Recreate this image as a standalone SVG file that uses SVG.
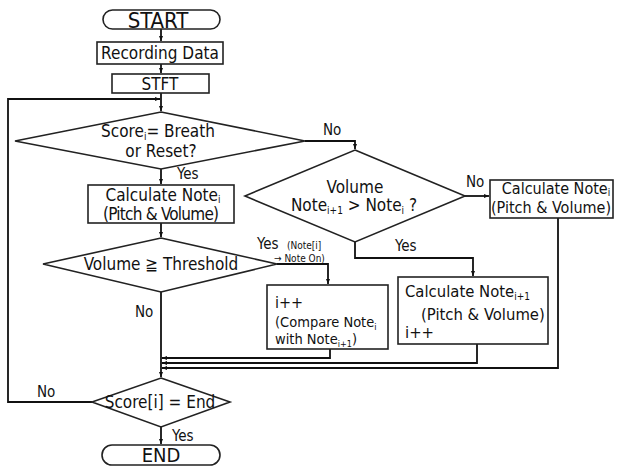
<svg xmlns="http://www.w3.org/2000/svg" width="618" height="467" viewBox="0 0 618 467">
<defs>
<marker id="ah" viewBox="0 0 10 10" refX="10" refY="5" markerWidth="5" markerHeight="5" orient="auto" markerUnits="userSpaceOnUse">
<path d="M0,1 L10,5 L0,9 z" fill="#111"/>
</marker>
</defs>
<style>
.s{fill:#fff;stroke:#222;stroke-width:1.6}
.c{fill:none;stroke:#111;stroke-width:1.8}
text{font-family:"DejaVu Sans Condensed","DejaVu Sans",sans-serif;fill:#111}
.t{font-size:17px}
.m{text-anchor:middle}
.l{font-size:15px}
.b{font-size:14.5px}
.sm{font-size:10px}
.sub{font-size:10px}
</style>
<rect width="618" height="467" fill="#fff"/>
<g id="connectors">
<path class="c" d="M161,29 V41" marker-end="url(#ah)"/>
<path class="c" d="M161,64 V73" marker-end="url(#ah)"/>
<path class="c" d="M161,93 V111" marker-end="url(#ah)"/>
<path class="c" d="M92,402 H8 V99 H160" marker-end="url(#ah)"/>
<path class="c" d="M161,169 V184" marker-end="url(#ah)"/>
<path class="c" d="M161,223 V237" marker-end="url(#ah)"/>
<path class="c" d="M305,141 H355 V149" marker-end="url(#ah)"/>
<path class="c" d="M465,196 H489" marker-end="url(#ah)"/>
<path class="c" d="M355,242 V258 H473 V276" marker-end="url(#ah)"/>
<path class="c" d="M277,264 H328 V284" marker-end="url(#ah)"/>
<path class="c" d="M161,292 V377" marker-end="url(#ah)"/>
<path class="c" d="M330,349 V358 H162" marker-end="url(#ah)"/>
<path class="c" d="M477,344 V363 H162" marker-end="url(#ah)"/>
<path class="c" d="M558,218 V368 H162" marker-end="url(#ah)"/>
<path class="c" d="M161,427 V444" marker-end="url(#ah)"/>
</g>
<g id="start">
<rect class="s" x="103" y="10" width="117" height="19" rx="9.5"/>
<text class="m" x="158" y="28" font-size="22">START</text>
</g>
<g id="recording">
<rect class="s" x="97" y="42" width="126" height="22"/>
<text class="t m" x="160" y="59">Recording Data</text>
</g>
<g id="stft">
<rect class="s" x="112" y="74" width="97" height="19"/>
<text class="t m" x="160" y="90">STFT</text>
</g>
<g id="d1">
<polygon class="s" points="161,112 305,141 161,169 15,141"/>
<text class="t m" x="158" y="137">Score<tspan class="sub" dy="3">i</tspan><tspan dy="-3">= Breath</tspan></text>
<text class="t m" x="161" y="157">or Reset?</text>
</g>
<g id="calc1">
<rect class="s" x="88" y="185" width="146" height="38"/>
<text class="t m" x="163" y="201">Calculate Note<tspan class="sub" dy="2">i</tspan></text>
<text class="t m" x="161" y="220" textLength="116">(Pitch &amp; Volume)</text>
</g>
<g id="d3">
<polygon class="s" points="161,238 277,264 161,292 43,264"/>
<text class="t m" x="161" y="270">Volume ≧ Threshold</text>
</g>
<g id="d2">
<polygon class="s" points="355,150 465,196 355,242 245,196"/>
<text class="t m" x="355" y="193">Volume</text>
<text class="t m" x="354" y="211">Note<tspan class="sub" dy="3">i+1</tspan><tspan dy="-3"> &gt; Note</tspan><tspan class="sub" dy="3">i</tspan><tspan dy="-3"> ?</tspan></text>
</g>
<g id="calcR">
<rect class="s" x="490" y="180" width="123" height="38"/>
<text class="m" x="556" y="194" font-size="16">Calculate Note<tspan class="sub" dy="2">i</tspan></text>
<text class="m" x="551" y="213" font-size="16">(Pitch &amp; Volume)</text>
</g>
<g id="inc">
<rect class="s" x="267" y="285" width="121" height="64"/>
<text x="275" y="308" font-size="16">i++</text>
<text class="b" x="275" y="327">(Compare Note<tspan font-size="9" dy="3">i</tspan></text>
<text class="b" x="275" y="344">with Note<tspan font-size="9" dy="3">i+1</tspan><tspan dy="-3">)</tspan></text>
</g>
<g id="calc2">
<rect class="s" x="398" y="277" width="150" height="67"/>
<text x="405" y="297" font-size="16.5">Calculate Note<tspan class="sub" dy="3">i+1</tspan></text>
<text x="421" y="320" font-size="16.5">(Pitch &amp; Volume)</text>
<text x="405" y="338" font-size="16.5">i++</text>
</g>
<g id="d4">
<polygon class="s" points="161,378 230,402 161,427 92,402"/>
<text class="t m" x="160" y="408">Score[i] = End</text>
</g>
<g id="end">
<rect class="s" x="102" y="445" width="118" height="20" rx="10"/>
<text class="m" x="161" y="462" font-size="20">END</text>
</g>
<g id="labels">
<text class="l" x="323" y="135">No</text>
<text class="l" x="177" y="179">Yes</text>
<text class="l" x="466" y="187">No</text>
<text class="l" x="395" y="251">Yes</text>
<text class="l" x="257" y="249">Yes</text>
<text class="sm" x="287" y="249">(Note[i]</text>
<text class="sm" x="274" y="262">→ Note On)</text>
<text class="l" x="135" y="317">No</text>
<text class="l" x="37" y="397">No</text>
<text class="l" x="172" y="441">Yes</text>
</g>
</svg>
